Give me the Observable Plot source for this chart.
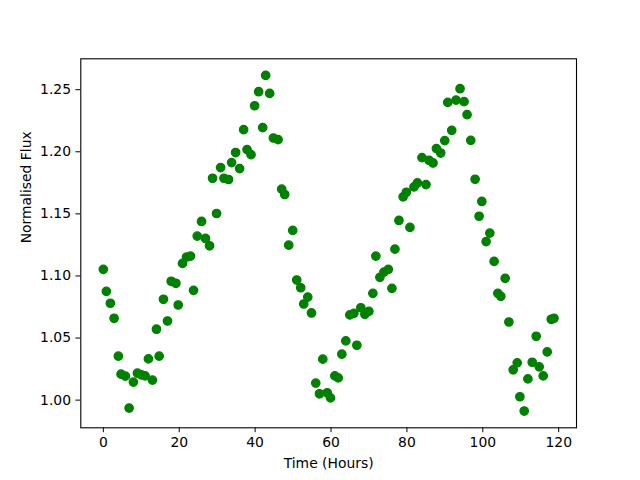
<!DOCTYPE html>
<html>
<head>
<meta charset="utf-8">
<script src="https://cdn.jsdelivr.net/npm/d3@7"></script>
<script src="https://cdn.jsdelivr.net/npm/@observablehq/plot@0.6"></script>
<style>
  html, body { margin: 0; padding: 0; background: white; }
</style>
</head>
<body>
<div id="chart"></div>
<script>
const hours = [
  0.0, 0.79, 1.85, 2.83, 3.96, 4.67, 5.81, 6.79, 7.92, 8.98,
  10.03, 11.01, 11.88, 12.94, 14.0, 14.71, 15.84, 16.9, 17.88, 19.12,
  19.73, 20.86, 21.92, 22.97, 23.77, 24.74, 25.88, 26.93, 27.99, 28.78,
  29.84, 30.9, 31.79, 33.0, 33.8, 34.86, 35.91, 36.97, 37.87, 38.92,
  39.87, 40.93, 41.99, 42.78, 43.83, 44.81, 46.05, 47.0, 47.8, 48.85,
  49.91, 50.96, 52.02, 52.81, 53.87, 54.85, 55.98, 56.96, 57.83, 58.99,
  59.86, 61.0, 61.9, 62.85, 63.9, 64.96, 66.02, 66.81, 67.86, 68.92,
  69.98, 71.03, 71.82, 72.88, 73.94, 75.1, 76.05, 76.84, 77.9, 79.0,
  79.85, 80.8, 81.86, 82.76, 83.97, 85.03, 85.82, 86.88, 87.77, 88.91,
  89.97, 90.76, 91.81, 92.95, 94.0, 95.06, 95.85, 96.83, 97.97, 99.02,
  99.74, 100.87, 101.85, 102.98, 103.96, 104.75, 105.89, 106.87, 108.0, 109.06,
  109.77, 110.91, 111.88, 113.02, 114.07, 114.87, 115.92, 116.97, 118.04, 118.75
];
const flux = [
  1.1053, 1.0876, 1.0780, 1.0659, 1.0354, 1.0209, 1.0193, 0.9936, 1.0145, 1.0217,
  1.0203, 1.0195, 1.0332, 1.0161, 1.0571, 1.0354, 1.0812, 1.0637, 1.0957, 1.0941,
  1.0766, 1.1101, 1.1152, 1.1160, 1.0884, 1.1321, 1.1439, 1.1302, 1.1243, 1.1787,
  1.1503, 1.1873, 1.1787, 1.1777, 1.1913, 1.1994, 1.1865, 1.2178, 1.2018, 1.1977,
  1.2371, 1.2484, 1.2195, 1.2615, 1.2470, 1.2111, 1.2098, 1.1699, 1.1656, 1.1248,
  1.1367, 1.0967, 1.0905, 1.0774, 1.0830, 1.0702, 1.0137, 1.0051, 1.0330, 1.0059,
  1.0018, 1.0195, 1.0179, 1.0370, 1.0477, 1.0686, 1.0699, 1.0442, 1.0744, 1.0691,
  1.0715, 1.0860, 1.1160, 1.0989, 1.1031, 1.1053, 1.0900, 1.1216, 1.1447, 1.1637,
  1.1674, 1.1391, 1.1717, 1.1749, 1.1953, 1.1736, 1.1932, 1.1910, 1.2026, 1.1990,
  1.2090, 1.2398, 1.2173, 1.2416, 1.2508, 1.2404, 1.2299, 1.2092, 1.1779, 1.1481,
  1.1600, 1.1277, 1.1345, 1.1117, 1.0860, 1.0836, 1.0981, 1.0629, 1.0244, 1.0300,
  1.0027, 0.9912, 1.0171, 1.0305, 1.0514, 1.0268, 1.0195, 1.0388, 1.0651, 1.0659
];
const xTicks = [0, 20, 40, 60, 80, 100, 120];
const yTicks = [1.00, 1.05, 1.10, 1.15, 1.20, 1.25];
const xLabel = "Time (Hours)";
const yLabel = "Normalised Flux";

const data = hours.map((h, i) => ({hours: h, flux: flux[i]}));

const chart = Plot.plot({
  width: 640,
  height: 480,
  marginLeft: 80.3,
  marginRight: 64,
  marginTop: 58.3,
  marginBottom: 52.7,
  style: {
    fontFamily: "DejaVu Sans",
    fontSize: "13.9px",
    background: "white",
    color: "black",
    overflow: "visible"
  },
  x: {domain: [-5.94, 124.69], ticks: xTicks, tickSize: 4.9, tickPadding: 4.9, label: null, tickFormat: d3.format("d")},
  y: {domain: [0.9777, 1.2749], ticks: yTicks, tickSize: 4.9, tickPadding: 4.9, label: null, tickFormat: d3.format(".2f")},
  marks: [
    Plot.axisX({ticks: xTicks, tickSize: 4.9, tickPadding: 4.9, tickFormat: d3.format("d"), label: null, fontSize: 13.9}),
    Plot.axisY({ticks: yTicks, tickSize: 4.9, tickPadding: 4.9, tickFormat: d3.format(".2f"), label: null, fontSize: 13.9}),
    Plot.dot(data, {x: "hours", y: "flux", r: 4.2, fill: "#008000", stroke: "#008000", strokeWidth: 1.3}),
    Plot.frame({stroke: "black", strokeWidth: 1.1}),
    Plot.text([xLabel], {frameAnchor: "bottom", text: d => d, dy: 30, lineAnchor: "top", fontSize: 13.9, fill: "black"}),
    Plot.text([yLabel], {frameAnchor: "left", text: d => d, dx: -54, rotate: -90, lineAnchor: "middle", fontSize: 13.9, fill: "black"})
  ]
});
document.getElementById("chart").appendChild(chart);
</script>
</body>
</html>
